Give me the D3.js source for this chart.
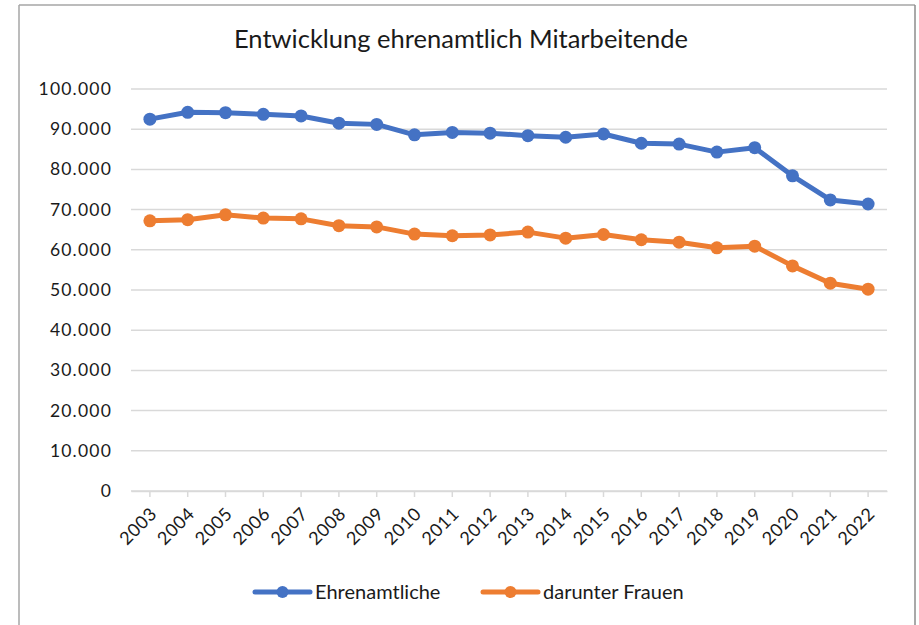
<!DOCTYPE html>
<html>
<head>
<meta charset="utf-8">
<script src="https://cdnjs.cloudflare.com/ajax/libs/d3/7.8.5/d3.min.js"></script>
<style>
  body { margin: 0; background: #fff; }
  text { font-family: Lato, "Open Sans", sans-serif; fill: #1a1a1a; }
</style>
</head>
<body>
<svg width="919" height="625"></svg>
<script>
var years = ['2003','2004','2005','2006','2007','2008','2009','2010','2011','2012',
             '2013','2014','2015','2016','2017','2018','2019','2020','2021','2022'];
var ehrenamtliche = [92500, 94200, 94100, 93700, 93300, 91500, 91200, 88600, 89200, 89000,
                     88400, 88000, 88800, 86500, 86300, 84300, 85400, 78400, 72400, 71400];
var frauen = [67200, 67500, 68700, 67900, 67700, 66000, 65700, 63900, 63500, 63700,
              64400, 62900, 63800, 62500, 61900, 60500, 60900, 56000, 51700, 50200];
var yTicks = [0, 10000, 20000, 30000, 40000, 50000, 60000, 70000, 80000, 90000, 100000];
var seriesNames = ['Ehrenamtliche', 'darunter Frauen'];
var seriesColors = ['#4472C4', '#ED7D31'];

var svg = d3.select('svg');

// chart frame
svg.append('line').attr('x1', 19).attr('y1', 5).attr('x2', 915).attr('y2', 5)
    .attr('stroke', '#a6a6a6').attr('stroke-width', 1.5);
svg.append('line').attr('x1', 19).attr('y1', 5).attr('x2', 19).attr('y2', 625)
    .attr('stroke', '#a6a6a6').attr('stroke-width', 1.5);
svg.append('line').attr('x1', 915).attr('y1', 5).attr('x2', 915).attr('y2', 625)
    .attr('stroke', '#8c8c8c').attr('stroke-width', 1.5);

var scaleX = d3.scaleBand().domain(years).range([131, 887]);
var scaleY = d3.scaleLinear().domain([0, 100000]).range([491, 89]);
var fmt = function (v) { return v === 0 ? '0' : d3.format(',')(v).replace(/,/g, '.'); };
var cx = function (d, i) { return scaleX(years[i]) + scaleX.bandwidth() / 2; };

// gridlines
svg.append('g')
    .selectAll('line')
    .data(yTicks)
    .enter()
    .append('line')
    .attr('x1', 131)
    .attr('x2', 887)
    .attr('y1', function (d) { return scaleY(d); })
    .attr('y2', function (d) { return scaleY(d); })
    .attr('stroke', '#d9d9d9')
    .attr('stroke-width', 1.5);

// y labels
svg.append('g')
    .selectAll('text')
    .data(yTicks)
    .enter()
    .append('text')
    .attr('x', 112)
    .attr('y', function (d) { return scaleY(d) + 6; })
    .attr('text-anchor', 'end')
    .attr('font-size', 17.5)
    .style('letter-spacing', '1.2px')
    .text(fmt);

// x axis
var xAxis = svg.append('g')
    .attr('transform', 'translate(0,491)')
    .call(d3.axisBottom(scaleX).tickSize(6).tickSizeOuter(0));
xAxis.select('.domain').attr('stroke', '#d9d9d9').attr('stroke-width', 1.5);
xAxis.selectAll('.tick line').attr('stroke', '#d9d9d9').attr('stroke-width', 1.5);
xAxis.selectAll('.tick text')
    .attr('font-size', 18)
    .attr('font-family', 'Lato, sans-serif')
    .attr('fill', '#1a1a1a')
    .attr('text-anchor', 'end')
    .attr('y', 0)
    .attr('dy', 0)
    .style('letter-spacing', '0.5px')
    .attr('transform', 'translate(8,24) rotate(-45)');

// series
var line = d3.line()
    .x(cx)
    .y(function (d) { return scaleY(d); });

[ehrenamtliche, frauen].forEach(function (vals, k) {
    svg.append('path')
        .datum(vals)
        .attr('d', line)
        .attr('fill', 'none')
        .attr('stroke', seriesColors[k])
        .attr('stroke-width', 5)
        .attr('stroke-linejoin', 'round');
    svg.append('g')
        .selectAll('circle')
        .data(vals)
        .enter()
        .append('circle')
        .attr('cx', cx)
        .attr('cy', function (d) { return scaleY(d); })
        .attr('r', 6.5)
        .attr('fill', seriesColors[k]);
});

// title
svg.append('text')
    .attr('x', 461)
    .attr('y', 48)
    .attr('text-anchor', 'middle')
    .attr('font-size', 25.5)
    .text('Entwicklung ehrenamtlich Mitarbeitende');

// legend
var legendX = [255, 483];
seriesNames.forEach(function (name, k) {
    var g = svg.append('g').attr('transform', 'translate(' + legendX[k] + ',592)');
    g.append('line').attr('x1', 0).attr('x2', 55).attr('y1', 0).attr('y2', 0)
        .attr('stroke', seriesColors[k]).attr('stroke-width', 5).attr('stroke-linecap', 'round');
    g.append('circle').attr('cx', 27.5).attr('cy', 0).attr('r', 6).attr('fill', seriesColors[k]);
    g.append('text').attr('x', 60).attr('y', 7).attr('font-size', 20).text(name);
});
</script>
</body>
</html>
